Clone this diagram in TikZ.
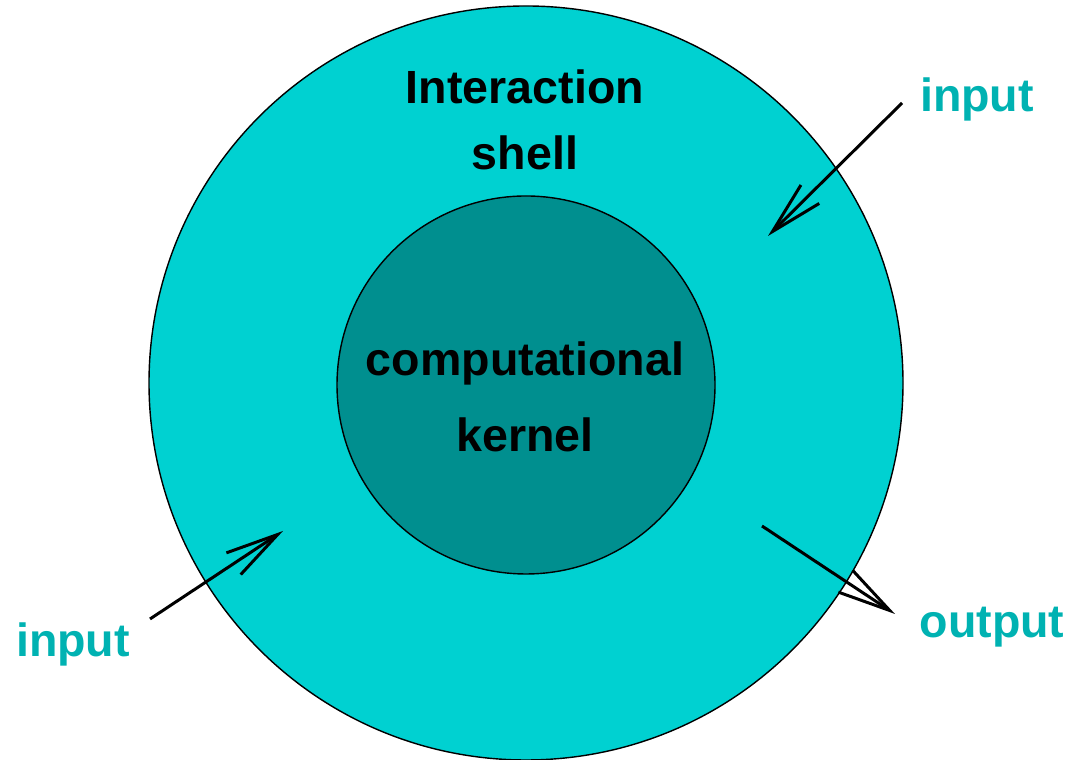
\documentclass[tikz,border=0pt]{standalone}
\usepackage{fontspec}
\setmainfont{Liberation Sans}
\usetikzlibrary{arrows.meta}
\definecolor{shellcol}{RGB}{0,209,209}
\definecolor{kernelcol}{RGB}{0,143,143}
\definecolor{labelcol}{RGB}{0,178,178}
\begin{document}
\begin{tikzpicture}
	\tikzset{
	    ring/.style= {circle, draw=black, line width=0.4pt, inner sep=0pt},
	    btext/.style= {font=\bfseries\fontsize{13.25}{18.8}\selectfont, align=center},
	    io/.style= {font=\bfseries\fontsize{13.25}{16}\selectfont, text=labelcol, anchor=base},
	    flow/.style= {line width=0.85pt, -{Straight Barb[length=5.3mm, width=2.6mm, line width=0.85pt]}},
	}
	\useasboundingbox (0,0) rectangle (10.71,7.60);

	\node[ring, fill=shellcol, minimum size=7.54cm] (shell) at (5.26, 3.77) {};
	\node[ring, fill=kernelcol, minimum size=3.78cm] (kernel) at (5.26, 3.75) {};

	\node[btext] (shelltext) at (5.25, 6.40) {Interaction\\shell};
	\node[btext, font=\bfseries\fontsize{13.25}{21.7}\selectfont] (kerneltext) at (5.25, 3.63) {computational\\kernel};

	\node[io] (intop) at (9.77, 6.48) {input};
	\node[io] (inbot) at (0.73, 1.03) {input};
	\node[io] (out) at (9.92, 1.22) {output};

	\coordinate (a1) at (9.02, 6.57);
	\coordinate (b1) at (7.68, 5.24);
	\coordinate (a2) at (1.50, 1.41);
	\coordinate (b2) at (2.83, 2.29);
	\coordinate (a3) at (7.62, 2.34);
	\coordinate (b3) at (8.95, 1.46);

	\draw[flow] (a1) -- (b1);
	\draw[flow] (a2) -- (b2);
	\draw[flow] (a3) -- (b3);
\end{tikzpicture}
\end{document}
